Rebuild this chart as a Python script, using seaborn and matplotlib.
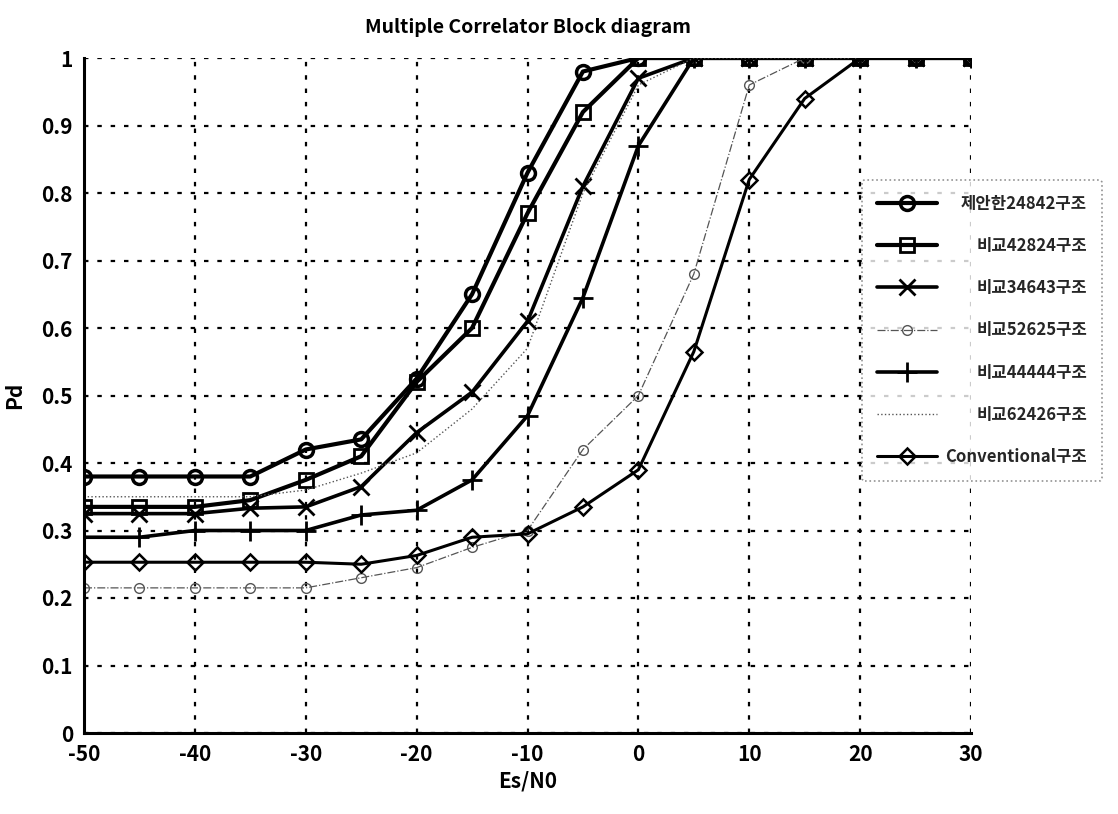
import numpy as np
import pandas as pd
import matplotlib
matplotlib.use("Agg")
import matplotlib.pyplot as plt
import seaborn as sns

# ---- data ----
esn0 = [-50, -45, -40, -35, -30, -25, -20, -15, -10, -5, 0, 5, 10, 15, 20, 25, 30]
s_24842 = [0.38, 0.38, 0.38, 0.38, 0.42, 0.435, 0.525, 0.65, 0.83, 0.98, 1, 1, 1, 1, 1, 1, 1]
s_42824 = [0.335, 0.335, 0.335, 0.345, 0.375, 0.41, 0.52, 0.60, 0.77, 0.92, 1, 1, 1, 1, 1, 1, 1]
s_34643 = [0.325, 0.325, 0.325, 0.333, 0.335, 0.365, 0.445, 0.505, 0.61, 0.81, 0.97, 1, 1, 1, 1, 1, 1]
s_52625 = [0.215, 0.215, 0.215, 0.215, 0.215, 0.23, 0.245, 0.275, 0.30, 0.42, 0.50, 0.68, 0.96, 1, 1, 1, 1]
s_44444 = [0.29, 0.29, 0.30, 0.30, 0.30, 0.323, 0.33, 0.375, 0.47, 0.645, 0.87, 1, 1, 1, 1, 1, 1]
s_62426 = [0.35, 0.35, 0.35, 0.35, 0.36, 0.385, 0.415, 0.48, 0.57, 0.80, 0.96, 1, 1, 1, 1, 1, 1]
s_conv = [0.253, 0.253, 0.253, 0.253, 0.253, 0.25, 0.263, 0.29, 0.295, 0.335, 0.39, 0.565, 0.82, 0.94, 1, 1, 1]

labels = ["제안한24842구조", "비교42824구조", "비교34643구조", "비교52625구조",
          "비교44444구조", "비교62426구조", "Conventional구조"]
series = [s_24842, s_42824, s_34643, s_52625, s_44444, s_62426, s_conv]

xticks = [-50, -40, -30, -20, -10, 0, 10, 20, 30]
yticks = [0, 0.1, 0.2, 0.3, 0.4, 0.5, 0.6, 0.7, 0.8, 0.9, 1]
ytick_labels = ["0", "0.1", "0.2", "0.3", "0.4", "0.5", "0.6", "0.7", "0.8", "0.9", "1"]

styles = [
    dict(marker="o", ls="-", lw=3.0, ms=10, mfc="none", mew=2.5, color="black"),
    dict(marker="s", ls="-", lw=3.0, ms=10, mfc="none", mew=2.0, color="black"),
    dict(marker="x", ls="-", lw=2.6, ms=11, mew=2.0, color="black"),
    dict(marker="o", ls="-.", lw=0.9, ms=7, mfc="none", mew=1.0, color="#555555"),
    dict(marker="+", ls="-", lw=2.6, ms=14, mew=2.0, color="black"),
    dict(marker=None, ls=":", lw=1.0, color="#555555"),
    dict(marker="D", ls="-", lw=2.2, ms=8, mfc="none", mew=1.8, color="black"),
]

sns.set_theme(style="white")
plt.rcParams["font.family"] = ["Noto Sans CJK KR", "DejaVu Sans"]

fig = plt.figure(figsize=(11.18, 8.14), dpi=100)
ax = fig.add_axes([84 / 1118, 1 - 733 / 814, (971 - 84) / 1118, (733 - 58) / 814])

for lab, vals, st in zip(labels, series, styles):
    df = pd.DataFrame({"Es/N0": esn0, "Pd": vals})
    st = dict(st)
    color = st.pop("color")
    ls = st.pop("ls")
    lw = st.pop("lw")
    marker = st.pop("marker")
    kw = dict(linestyle=ls, linewidth=lw)
    if marker is not None:
        kw["marker"] = marker
        kw["markersize"] = st.pop("ms")
        kw["markeredgewidth"] = st.pop("mew")
        kw["markeredgecolor"] = color
        if "mfc" in st:
            kw["markerfacecolor"] = st.pop("mfc")
    sns.lineplot(data=df, x="Es/N0", y="Pd", ax=ax, color=color, label=lab, **kw)

ax.set_xlim(-50, 30)
ax.set_ylim(0, 1)
ax.set_xticks(xticks)
ax.set_xticklabels([str(v) for v in xticks], fontsize=15, fontweight="bold")
ax.set_yticks(yticks)
ax.set_yticklabels(ytick_labels, fontsize=15, fontweight="bold")
ax.grid(True, color="black", linestyle=(0, (2, 4)), linewidth=1.6)
for side in ["top", "right"]:
    ax.spines[side].set_visible(False)
for side in ["left", "bottom"]:
    ax.spines[side].set_color("black")
    ax.spines[side].set_linewidth(2.2)
ax.tick_params(axis="both", which="both", length=5, width=1.5, direction="in", colors="black", pad=8)

ax.set_xlabel("Es/N0", fontsize=15, fontweight="bold", color="black")
ax.set_ylabel("Pd", fontsize=15, fontweight="bold", color="black", labelpad=12)
ax.set_title("Multiple Correlator Block diagram", fontsize=14, fontweight="bold", color="black", pad=18)

ax.get_legend().remove()
handles, labs = ax.get_legend_handles_labels()
leg = fig.legend(handles, labs, loc="upper left", bbox_to_anchor=(862 / 1118, 1 - 180 / 814),
                 borderaxespad=0.0,
                 frameon=True, fontsize=12, handlelength=3.6, handletextpad=0.5,
                 labelspacing=1.45, borderpad=0.9, fancybox=True, edgecolor="#777777")
leg.get_frame().set_linestyle(":")
leg.get_frame().set_linewidth(1.2)
for t in leg.get_texts():
    t.set_fontweight("bold")

# right-align legend texts while keeping handles aligned on the left
try:
    fig.canvas.draw()
    renderer = fig.canvas.get_renderer()
    widths = [t.get_window_extent(renderer).width for t in leg.get_texts()]
    maxw = max(widths)
    entries = []
    for col in leg._legend_handle_box.get_children():
        entries.extend(col.get_children())
    pts_per_px = 72.0 / fig.dpi
    for hp, w in zip(entries, widths):
        hp.sep = hp.sep + (maxw - w) * pts_per_px
except Exception:
    pass

fig.savefig("out.png", dpi=100, facecolor="white")
